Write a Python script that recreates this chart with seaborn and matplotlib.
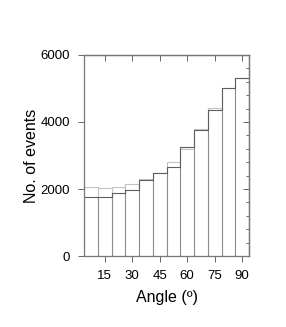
import pandas as pd
import matplotlib
matplotlib.use("Agg")
import matplotlib.pyplot as plt
from matplotlib.ticker import MultipleLocator
import seaborn as sns

# bin centres (degrees) and counts for the two distributions
angles = [7.5, 15, 22.5, 30, 37.5, 45, 52.5, 60, 67.5, 75, 82.5, 90]
counts_dark = [1770, 1750, 1870, 1970, 2260, 2470, 2670, 3260, 3760, 4350, 5000, 5300]
counts_light = [2070, 2020, 2050, 2140, 2290, 2470, 2820, 3180, 3780, 4430, 5000, 5300]

sns.set_style("white")
plt.rcParams["font.family"] = ["Liberation Sans", "DejaVu Sans"]
plt.rcParams["text.color"] = "black"
plt.rcParams["axes.labelcolor"] = "black"
plt.rcParams["xtick.color"] = "black"
plt.rcParams["ytick.color"] = "black"

df = pd.DataFrame({"angle": angles, "dark": counts_dark, "light": counts_light})
width = 7.5
edges = [a - width / 2 for a in angles] + [angles[-1] + width / 2]

fig = plt.figure(figsize=(2.86, 3.27), dpi=100)
ax = fig.add_axes([0.294, 0.217, 0.577, 0.615])

sns.histplot(data=df, x="angle", weights="light", bins=edges, element="bars",
             fill=False, color="#c4c4c4", linewidth=0.8, ax=ax)
sns.histplot(data=df, x="angle", weights="dark", bins=edges, element="bars",
             fill=False, color="#8a8a8a", linewidth=0.6, ax=ax)
sns.histplot(data=df, x="angle", weights="dark", bins=edges, element="step",
             fill=False, color="#5e5e5e", linewidth=0.8, ax=ax)

ax.set_xlim(edges[0], edges[-1])
ax.set_ylim(0, 6000)
xticks = [15, 30, 45, 60, 75, 90]
yticks = [0, 2000, 4000, 6000]
ax.set_xticks(xticks)
ax.set_yticks(yticks)
ax.yaxis.set_minor_locator(MultipleLocator(400))
ax.tick_params(axis="both", labelsize=9.5, length=4, width=0.7, pad=6,
               color="#666666", direction="out")
ax.tick_params(axis="y", which="minor", length=2.5)
ax.tick_params(left=True, bottom=True, right=False, top=False)
for s in ax.spines.values():
    s.set_color("#777777")
    s.set_linewidth(0.9)

# inward ticks on the top and right frame
top = ax.secondary_xaxis("top")
top.set_xticks(xticks)
top.tick_params(direction="in", length=4, width=0.7, color="#666666", labeltop=False)
right = ax.secondary_yaxis("right")
right.set_yticks(yticks)
right.yaxis.set_minor_locator(MultipleLocator(400))
right.tick_params(which="both", direction="in", width=0.7, color="#666666",
                  labelright=False)
right.tick_params(which="major", length=4)
right.tick_params(which="minor", length=2.5)
for sec in (top, right):
    for s in sec.spines.values():
        s.set_color("#777777")
        s.set_linewidth(0.9)

ax.set_xlabel("Angle (º)", fontsize=11.5, labelpad=6)
ax.set_ylabel("No. of events", fontsize=11.5, labelpad=1)

fig.savefig("out.png", dpi=100)
